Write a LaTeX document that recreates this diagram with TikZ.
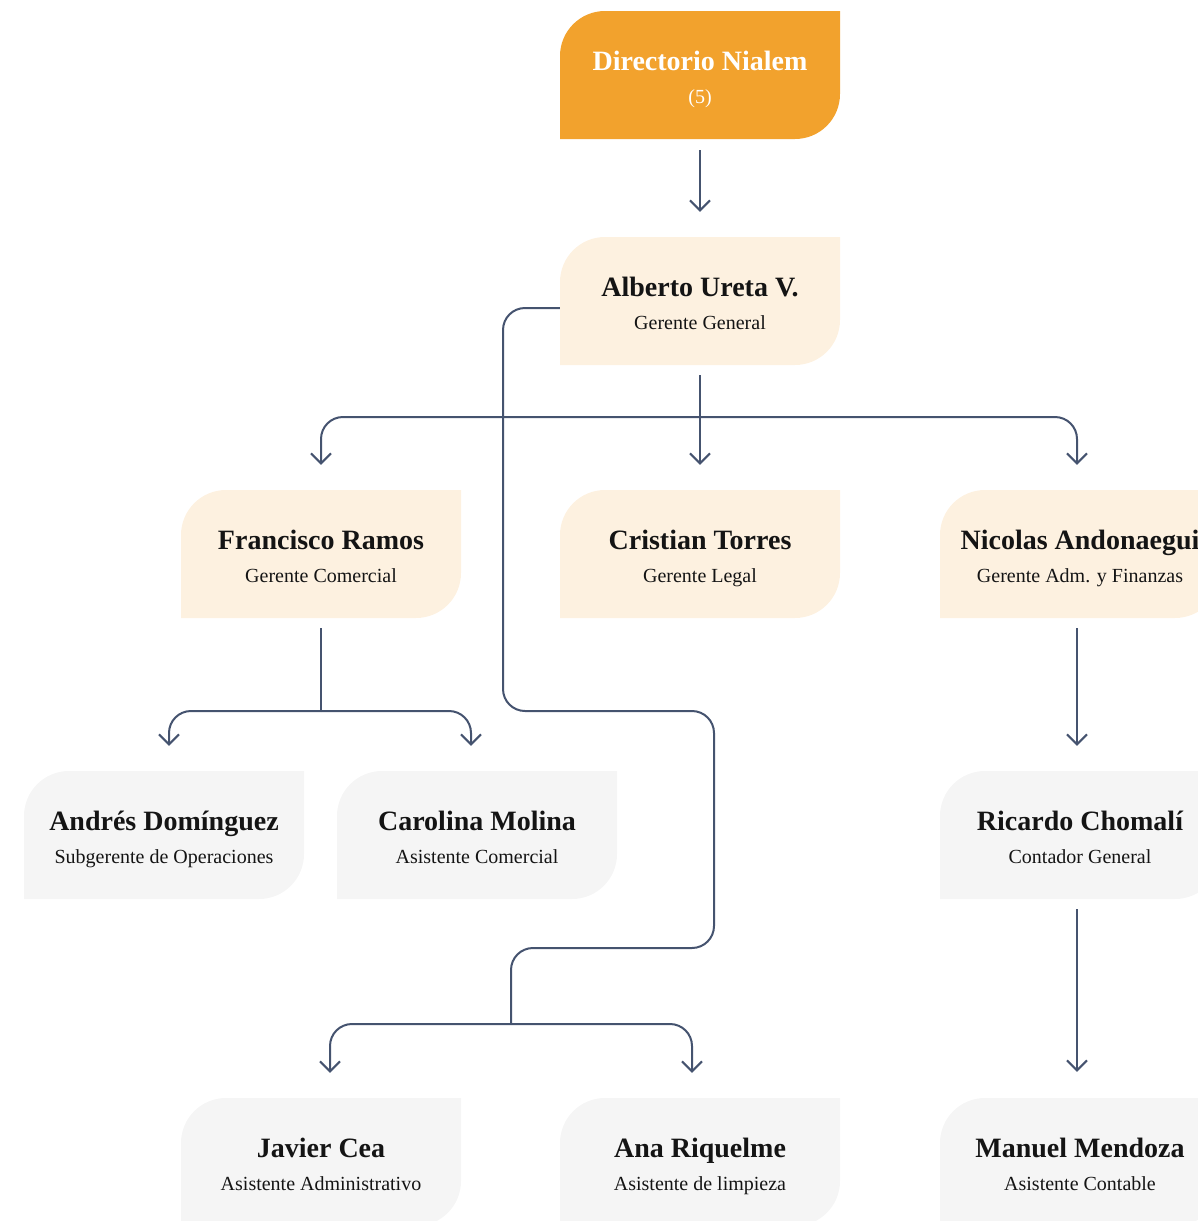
\documentclass[tikz,border=0pt]{standalone}
\usepackage{fontspec}
\setmainfont{Liberation Serif}
\usepackage{tikz}
\usetikzlibrary{arrows.meta, positioning, calc}
\definecolor{dirorange}{HTML}{F2A22D}
\definecolor{mgrcream}{HTML}{FDF1E0}
\definecolor{staffgray}{HTML}{F5F5F5}
\definecolor{linkslate}{HTML}{45536F}
\definecolor{inkdark}{HTML}{141414}

\begin{document}
\begin{tikzpicture}[x=1pt, y=1pt,
  box/.style={rectangle, minimum width=280pt, minimum height=128pt, inner sep=0pt},
  who/.style={anchor=base, inner sep=0pt, font=\fontsize{28}{30}\selectfont\bfseries},
  role/.style={anchor=base, inner sep=0pt, font=\fontsize{20}{22}\selectfont},
  link/.style={draw=linkslate, line width=2pt, rounded corners=22pt,
    -{Straight Barb[length=10pt, width=20pt]}}]
  \useasboundingbox (0,0) rectangle (1197,-1221);

  % Boxes: id / centre x / centre y / fill / text colour / name / role
  \foreach \id/\x/\y/\fillc/\txtc/\who/\role in {
    dir/700/75/dirorange/white/Directorio Nialem/(5),
    gg/700/301/mgrcream/inkdark/Alberto Ureta V./Gerente General,
    gcom/321/554/mgrcream/inkdark/Francisco Ramos/Gerente Comercial,
    glegal/700/554/mgrcream/inkdark/Cristian Torres/Gerente Legal,
    gadm/1080/554/mgrcream/inkdark/Nicolas Andonaegui/Gerente Adm. y Finanzas,
    subop/164/835/staffgray/inkdark/Andrés Domínguez/Subgerente de Operaciones,
    asiscom/477/835/staffgray/inkdark/Carolina Molina/Asistente Comercial,
    cont/1080/835/staffgray/inkdark/Ricardo Chomalí/Contador General,
    asisadm/321/1162/staffgray/inkdark/Javier Cea/Asistente Administrativo,
    asislimp/700/1162/staffgray/inkdark/Ana Riquelme/Asistente de limpieza,
    asiscont/1080/1162/staffgray/inkdark/Manuel Mendoza/Asistente Contable%
  }{
    \fill[\fillc] (\x-140,-\y-64) -- (\x-140,-\y+19)
      arc[start angle=180, end angle=90, radius=45] -- (\x+140,-\y+64)
      -- (\x+140,-\y-19) arc[start angle=0, end angle=-90, radius=45] -- cycle;
    \node[box] (\id) at (\x,-\y) {};
    \node[who, text=\txtc] (\id-who) at (\x,-\y+5) {\who};
    \node[role, text=\txtc] (\id-role) at (\x,-\y-28) {\role};
  }

  % Bus points
  \coordinate (gg-bus) at (700,-417);
  \coordinate (gc-bus) at (321,-711);
  \coordinate (ga-bus) at (511,-1024);

  % Directorio -> Gerente General
  \draw[link, shorten <=11pt, shorten >=25pt] (dir) -- (gg);

  % Gerente General -> gerentes
  \draw[link, shorten <=10pt, shorten >=25pt] (gg) -- (glegal);
  \draw[link] (gg-bus) -| ([yshift=25pt]gcom.north);
  \draw[link] (gg-bus) -| ([xshift=-3pt, yshift=25pt]gadm.north);

  % Gerente Comercial -> equipo
  \draw[link, -, shorten <=10pt] (gcom) -- (gc-bus);
  \draw[link] (gc-bus) -| ([xshift=5pt, yshift=25pt]subop.north);
  \draw[link] (gc-bus) -| ([xshift=-6pt, yshift=25pt]asiscom.north);

  % Gerente General -> asistentes
  \draw[link, -] ([yshift=-7pt]gg.west) -| (503,-711) -| (714,-948) -| (ga-bus);
  \draw[link] (ga-bus) -| ([xshift=9pt, yshift=25pt]asisadm.north);
  \draw[link] (ga-bus) -| ([xshift=-8pt, yshift=25pt]asislimp.north);

  % Adm. y Finanzas -> contabilidad
  \draw[link, shorten <=10pt, shorten >=25pt] ([xshift=-3pt]gadm.south) -- ([xshift=-3pt]cont.north);
  \draw[link, shorten <=10pt, shorten >=26pt] ([xshift=-3pt]cont.south) -- ([xshift=-3pt]asiscont.north);
\end{tikzpicture}
\end{document}
